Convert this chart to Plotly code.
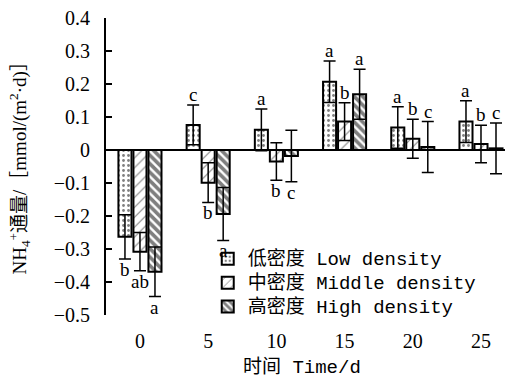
import plotly.graph_objects as go

days = [0, 5, 10, 15, 20, 25]
day_labels = ["0", "5", "10", "15", "20", "25"]

low = [-0.263, 0.076, 0.061, 0.207, 0.068, 0.086]
low_err = [0.067, 0.060, 0.063, 0.063, 0.063, 0.063]
mid = [-0.308, -0.099, -0.035, 0.086, 0.034, 0.018]
mid_err = [0.058, 0.060, 0.057, 0.057, 0.059, 0.057]
high = [-0.369, -0.194, -0.018, 0.169, 0.009, 0.005]
high_err = [0.075, 0.080, 0.078, 0.076, 0.077, 0.077]

low_letters = ["b", "c", "a", "a", "a", "a"]
mid_letters = ["ab", "b", "b", "b", "b", "b"]
high_letters = ["a", "a", "c", "a", "c", "c"]

names = ["低密度 Low density", "中密度 Middle density", "高密度 High density"]

y_tickvals = [-0.5, -0.4, -0.3, -0.2, -0.1, 0, 0.1, 0.2, 0.3, 0.4]
y_ticktext = ["−0.5", "−0.4", "−0.3", "−0.2", "−0.1", "0", "0.1", "0.2", "0.3", "0.4"]

BARGAP = 0.34
BARGROUPGAP = 0.13

patterns = [
    dict(shape=".", fgcolor="black", bgcolor="white", size=5, solidity=0.25),
    dict(shape="/", fgcolor="black", bgcolor="white", size=7, solidity=0.15),
    dict(shape="\\", fgcolor="black", bgcolor="white", size=6, solidity=0.6),
]

series = [(low, low_err, low_letters), (mid, mid_err, mid_letters), (high, high_err, high_letters)]

fig = go.Figure()
for i, (vals, errs, _) in enumerate(series):
    fig.add_trace(go.Bar(
        x=days, y=vals,
        name='<span style="font-size:19px">' + names[i] + '</span>',
        marker=dict(color="white", line=dict(color="black", width=2), pattern=patterns[i]),
        error_y=dict(type="data", array=errs, visible=True, color="black", thickness=1.5, width=6),
    ))

# letters above/below error bars
step = days[1] - days[0]
slot = step * (1 - BARGAP) / 3
annotations = []
for i, (vals, errs, letters) in enumerate(series):
    for d, v, e, L in zip(days, vals, errs, letters):
        xpos = d + (i - 1) * slot
        if v >= 0:
            annotations.append(dict(x=xpos, y=v + e, xref="x", yref="y", text=L, showarrow=False,
                                    yanchor="bottom", yshift=-2,
                                    font=dict(family="Liberation Serif", size=19, color="black")))
        else:
            annotations.append(dict(x=xpos, y=v - e, xref="x", yref="y", text=L, showarrow=False,
                                    yanchor="top", yshift=2,
                                    font=dict(family="Liberation Serif", size=19, color="black")))

annotations.append(dict(
    x=-0.2155, y=0.51, xref="paper", yref="paper", textangle=-90, showarrow=False,
    text="NH<sub>4</sub><sup>+</sup>通量/［mmol/(m<sup>2</sup>·d)］",
    font=dict(family="Liberation Serif, Noto Sans CJK SC", size=19, color="black"),
    xanchor="center", yanchor="middle"))
annotations.append(dict(
    x=0.49, y=-0.178, xref="paper", yref="paper", showarrow=False,
    text="时间 Time/d",
    font=dict(family="Liberation Mono, Noto Sans CJK SC", size=19, color="black"),
    xanchor="center", yanchor="middle"))

fig.update_layout(
    width=505, height=390,
    margin=dict(l=106, r=0, t=18, b=75, autoexpand=False),
    paper_bgcolor="white", plot_bgcolor="white",
    barmode="group", bargap=BARGAP, bargroupgap=BARGROUPGAP,
    showlegend=True,
    legend=dict(x=0.255, y=0.246, xanchor="left", yanchor="top",
                bgcolor="rgba(0,0,0,0)",
                font=dict(family="Liberation Mono, Noto Sans CJK SC", size=16, color="black"),
                tracegroupgap=0, itemwidth=30),
    annotations=annotations,
    font=dict(family="Liberation Serif", color="black"),
)
fig.update_xaxes(range=[-2.49, 26.76], tickvals=days, ticktext=day_labels, automargin=False,
                 showline=False, zeroline=False, showgrid=False, ticks="",
                 tickfont=dict(family="Liberation Serif", size=20, color="black"),
                 ticklabelstandoff=12)
fig.update_yaxes(range=[-0.5, 0.4], tickvals=y_tickvals, ticktext=y_ticktext, automargin=False,
                 showline=True, linecolor="black", linewidth=2, mirror=False,
                 ticks="inside", ticklen=6, tickwidth=1.5, tickcolor="black",
                 zeroline=True, zerolinecolor="black", zerolinewidth=2,
                 showgrid=False,
                 tickfont=dict(family="Liberation Serif", size=20, color="black"),
                 ticklabelstandoff=10)

fig.write_html("out.html", config={"displayModeBar": False},
               post_script="document.body.style.margin='0';document.body.style.padding='0';")
